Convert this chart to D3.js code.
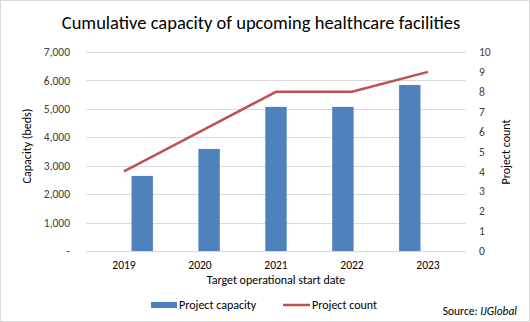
<!DOCTYPE html>
<html>
<head>
<meta charset="utf-8">
<script src="https://cdn.jsdelivr.net/npm/d3@7"></script>
<style>
  body { margin: 0; background: #fff; }
  svg text { font-family: Carlito, Calibri, "Open Sans", sans-serif; }
</style>
</head>
<body>
<div id="chart"></div>
<script>
// years, cumulative beds and project counts
var years = ["2019", "2020", "2021", "2022", "2023"];
var capacity = [2640, 3590, 5070, 5070, 5840];
var projectCount = [4, 6, 8, 8, 9];
var capacityTicks = [0, 1000, 2000, 3000, 4000, 5000, 6000, 7000];
var countTicks = [0, 1, 2, 3, 4, 5, 6, 7, 8, 9, 10];

var svgWidth = 530, svgHeight = 322;
var plot = {left: 86, right: 466, top: 52, bottom: 251};

var svg = d3.select("#chart").append("svg")
    .attr("width", svgWidth)
    .attr("height", svgHeight);

// outer frame
svg.append("rect")
    .attr("x", 0.5).attr("y", 0.5)
    .attr("width", svgWidth - 1).attr("height", svgHeight - 1)
    .attr("fill", "#fff")
    .attr("stroke", "#d9d9d9");

var x = d3.scaleBand().domain(years).range([plot.left, plot.right]).padding(0.68);
var xCenter = d3.scaleBand().domain(years).range([plot.left, plot.right]);
var yLeft = d3.scaleLinear().domain([0, 7000]).range([plot.bottom, plot.top]);
var yRight = d3.scaleLinear().domain([0, 10]).range([plot.bottom, plot.top]);

svg.append("text")
    .attr("x", 261).attr("y", 29)
    .attr("text-anchor", "middle")
    .attr("font-size", 18.5)
    .attr("fill", "#000")
    .text("Cumulative capacity of upcoming healthcare facilities");

// gridlines
svg.append("g")
    .selectAll("line")
    .data(capacityTicks)
    .enter().append("line")
    .attr("x1", plot.left).attr("x2", plot.right)
    .attr("y1", function(d) { return Math.round(yLeft(d)) + 0.5; })
    .attr("y2", function(d) { return Math.round(yLeft(d)) + 0.5; })
    .attr("stroke", "#d9d9d9");

// left axis
var leftAxis = svg.append("g")
    .attr("transform", "translate(" + plot.left + ",0)")
    .call(d3.axisLeft(yLeft).tickValues(capacityTicks).tickSize(0).tickPadding(16)
        .tickFormat(function(d) { return d === 0 ? "-" : d3.format(",")(d); }));
leftAxis.select(".domain").remove();
leftAxis.selectAll("text")
    .attr("font-size", 11.5).attr("fill", "#404040")
    .attr("font-family", "Carlito, Calibri, 'Open Sans', sans-serif");

// right axis
var rightAxis = svg.append("g")
    .attr("transform", "translate(" + plot.right + ",0)")
    .call(d3.axisRight(yRight).tickValues(countTicks).tickSize(0).tickPadding(13));
rightAxis.select(".domain").remove();
rightAxis.selectAll("text")
    .attr("font-size", 11.5).attr("fill", "#404040")
    .attr("font-family", "Carlito, Calibri, 'Open Sans', sans-serif");

// bottom axis labels
var bottomAxis = svg.append("g")
    .attr("transform", "translate(0," + plot.bottom + ")")
    .call(d3.axisBottom(xCenter).tickSize(0).tickPadding(10));
bottomAxis.select(".domain").remove();
bottomAxis.selectAll("text")
    .attr("font-size", 11.5).attr("fill", "#000")
    .attr("font-family", "Carlito, Calibri, 'Open Sans', sans-serif");

// bars
svg.append("g")
    .selectAll(".bar")
    .data(capacity)
    .enter().append("rect")
    .attr("class", "bar")
    .attr("x", function(d, i) { return x(years[i]); })
    .attr("y", function(d) { return yLeft(d); })
    .attr("width", x.bandwidth())
    .attr("height", function(d) { return plot.bottom - yLeft(d); })
    .attr("fill", "#4f81bd");

// count line
var line = d3.line()
    .x(function(d, i) { return xCenter(years[i]) + xCenter.bandwidth() / 2; })
    .y(function(d) { return yRight(d); });
svg.append("path")
    .datum(projectCount)
    .attr("d", line)
    .attr("fill", "none")
    .attr("stroke", "#c0504d")
    .attr("stroke-width", 2.5);

// axis titles
svg.append("text")
    .attr("transform", "translate(31,146) rotate(-90)")
    .attr("text-anchor", "middle")
    .attr("font-size", 12).attr("fill", "#000")
    .text("Capacity (beds)");
svg.append("text")
    .attr("transform", "translate(510,152) rotate(-90)")
    .attr("text-anchor", "middle")
    .attr("font-size", 12).attr("fill", "#000")
    .text("Project count");
svg.append("text")
    .attr("x", 276).attr("y", 284)
    .attr("text-anchor", "middle")
    .attr("font-size", 12).attr("fill", "#000")
    .text("Target operational start date");

// legend
var legend = svg.append("g");
legend.append("rect")
    .attr("x", 151).attr("y", 302).attr("width", 26).attr("height", 6)
    .attr("fill", "#4f81bd");
legend.append("text")
    .attr("x", 179).attr("y", 309)
    .attr("font-size", 12).attr("fill", "#000")
    .text("Project capacity");
legend.append("line")
    .attr("x1", 283).attr("x2", 310).attr("y1", 305).attr("y2", 305)
    .attr("stroke", "#c0504d").attr("stroke-width", 2.5);
legend.append("text")
    .attr("x", 312).attr("y", 309)
    .attr("font-size", 12).attr("fill", "#000")
    .text("Project count");

var source = svg.append("text")
    .attr("x", 517).attr("y", 315)
    .attr("text-anchor", "end")
    .attr("font-size", 11.5).attr("fill", "#000");
source.append("tspan").text("Source: ");
source.append("tspan").attr("font-style", "italic").text("IJGlobal");
</script>
</body>
</html>
